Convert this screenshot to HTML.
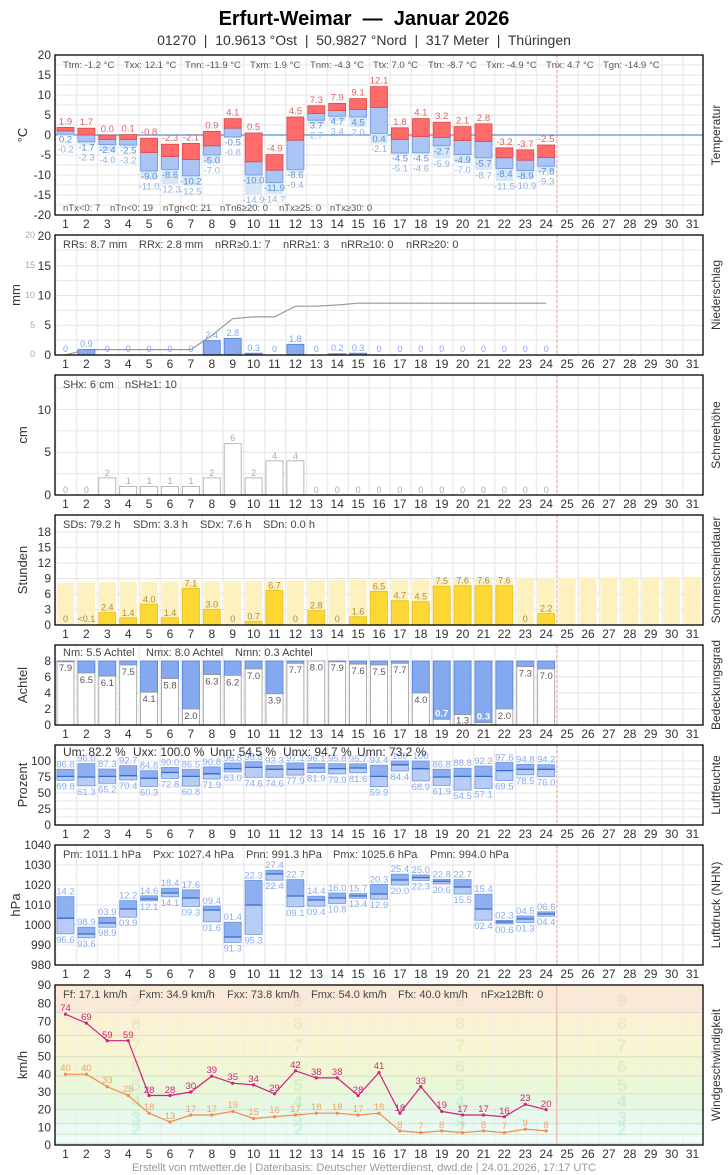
<!DOCTYPE html>
<html><head><meta charset="utf-8"><style>
body{margin:0;background:#fff}
svg{display:block;font-family:"Liberation Sans",sans-serif}
.t{font-size:12px;fill:#333}
.yt{font-size:12px;fill:#333;text-anchor:end}
.xl{font-size:12px;fill:#333;text-anchor:middle}
.st{font-size:11px;fill:#444}
.sts{font-size:9.5px;fill:#555}
.fr{fill:none;stroke:#000;stroke-width:1.3}
.hg{stroke:#e4e4e4;stroke-width:1}
.dl{stroke:#f2b8b8;stroke-width:1.2}
.r{fill:#ff6b6b;stroke:#d84a4a;stroke-width:.8}
.b{fill:#a9c4f5;stroke:#6a96e0;stroke-width:.8}
.lb{fill:#d6e7f8}
.lr{font-size:9.5px;fill:#e06060;text-anchor:middle}
.ln{font-size:9.5px;fill:#5b8fd8;text-anchor:middle}
.lg{font-size:9.5px;fill:#8fb4dc;text-anchor:middle}
.pb{fill:#8aacef;stroke:#4a7fe0;stroke-width:.8}
.pl{font-size:9px;fill:#7fa6ee;text-anchor:middle}
.sb{fill:#fff;stroke:#a8a8a8;stroke-width:.8}
.sl{font-size:9px;fill:#aaa;text-anchor:middle}
.sg{fill:#fdf1c0}
.sy{fill:#fdd835;stroke:#e8c21a;stroke-width:.8}
.syl{font-size:9px;fill:#a89040;text-anchor:middle}
.cw{fill:#fff;stroke:#999;stroke-width:.8}
.cb{fill:#85a9ee;stroke:#4a7fe0;stroke-width:.8}
.cl{font-size:9.5px;fill:#555;text-anchor:middle}
.hu{fill:#8fb0f0;stroke:#6a96e0;stroke-width:.8}
.hl{fill:#b8cdf5;stroke:#6a96e0;stroke-width:.8}
.hm{stroke:#3a6ad0;stroke-width:1.3}
.hx{font-size:9.5px;fill:#8aacef;text-anchor:middle}
.bf{font-size:17px;font-weight:bold;text-anchor:middle}
.g{fill:none;stroke:#d0237a;stroke-width:1.2}
.m{fill:none;stroke:#f58a4a;stroke-width:1.2}
.gl{font-size:9.5px;fill:#d0237a;text-anchor:middle}
.ml{font-size:9.5px;fill:#f5a070;text-anchor:middle}
.rt{font-size:12px;fill:#333;text-anchor:middle}
.pre{white-space:pre}
</style></head><body>
<svg width="728" height="1175" viewBox="0 0 728 1175" xmlns="http://www.w3.org/2000/svg">
<defs>
<pattern id="vg" patternUnits="userSpaceOnUse" x="55" y="0" width="20.903" height="20"><rect x="-1" y="0" width="2.4" height="20" fill="#ececec"/></pattern>
</defs>
<text class="pre" x="364" y="25" text-anchor="middle" style="font-size:20px;font-weight:bold;fill:#000">Erfurt-Weimar  —  Januar 2026</text>
<text class="pre" x="364" y="45" text-anchor="middle" style="font-size:14px;fill:#333">01270  |  10.9613 °Ost  |  50.9827 °Nord  |  317 Meter  |  Thüringen</text>

<!-- ============ P1 TEMPERATURE ============ -->
<rect x="55" y="55" width="648" height="160" fill="url(#vg)"/>
<g class="hg"><line x1="55" x2="703" y1="65" y2="65"/><line x1="55" x2="703" y1="75" y2="75"/><line x1="55" x2="703" y1="85" y2="85"/><line x1="55" x2="703" y1="95" y2="95"/><line x1="55" x2="703" y1="105" y2="105"/><line x1="55" x2="703" y1="115" y2="115"/><line x1="55" x2="703" y1="125" y2="125"/><line x1="55" x2="703" y1="145" y2="145"/><line x1="55" x2="703" y1="155" y2="155"/><line x1="55" x2="703" y1="165" y2="165"/><line x1="55" x2="703" y1="175" y2="175"/><line x1="55" x2="703" y1="185" y2="185"/><line x1="55" x2="703" y1="195" y2="195"/><line x1="55" x2="703" y1="205" y2="205"/></g>
<line x1="556.7" x2="556.7" y1="55" y2="215" class="dl" stroke-dasharray="3,2"/>
<line x1="55" x2="703" y1="135" y2="135" stroke="#5b8fd8" stroke-width="1.2"/>
<g>
<rect class="lb" x="57" y="134.2" width="17" height="1.6"/><rect class="b" x="57" y="131" width="17" height="3.2"/><rect class="r" x="57" y="127.4" width="17" height="3.6"/>
<rect class="lb" x="77.9" y="141.8" width="17" height="2.4"/><rect class="b" x="77.9" y="135" width="17" height="6.8"/><rect class="r" x="77.9" y="128.2" width="17" height="6.8"/>
<rect class="lb" x="98.8" y="144.6" width="17" height="6.4"/><rect class="b" x="98.8" y="139.4" width="17" height="5.2"/><rect class="r" x="98.8" y="135" width="17" height="4.4"/>
<rect class="lb" x="119.7" y="145" width="17" height="2.8"/><rect class="b" x="119.7" y="139.4" width="17" height="5.6"/><rect class="r" x="119.7" y="134.6" width="17" height="4.8"/>
<rect class="lb" x="140.6" y="171" width="17" height="8"/><rect class="b" x="140.6" y="152.6" width="17" height="18.4"/><rect class="r" x="140.6" y="138.2" width="17" height="14.4"/>
<rect class="lb" x="161.5" y="169.4" width="17" height="14.8"/><rect class="b" x="161.5" y="156.6" width="17" height="12.8"/><rect class="r" x="161.5" y="144.2" width="17" height="12.4"/>
<rect class="lb" x="182.4" y="175.8" width="17" height="9.2"/><rect class="b" x="182.4" y="159.4" width="17" height="16.4"/><rect class="r" x="182.4" y="143.4" width="17" height="16"/>
<rect class="lb" x="203.3" y="155" width="17" height="8"/><rect class="b" x="203.3" y="145.8" width="17" height="9.2"/><rect class="r" x="203.3" y="131.4" width="17" height="14.4"/>
<rect class="lb" x="224.2" y="137" width="17" height="1.2"/><rect class="b" x="224.2" y="128.2" width="17" height="8.8"/><rect class="r" x="224.2" y="118.6" width="17" height="9.6"/>
<rect class="lb" x="245.1" y="175" width="17" height="19.6"/><rect class="b" x="245.1" y="161.8" width="17" height="13.2"/><rect class="r" x="245.1" y="133" width="17" height="28.8"/>
<rect class="lb" x="266" y="182.6" width="17" height="11.2"/><rect class="b" x="266" y="170.2" width="17" height="12.4"/><rect class="r" x="266" y="154.6" width="17" height="15.6"/>
<rect class="lb" x="286.9" y="169.4" width="17" height="3.2"/><rect class="b" x="286.9" y="140.2" width="17" height="29.2"/><rect class="r" x="286.9" y="117" width="17" height="23.2"/>
<rect class="lb" x="307.8" y="120.2" width="17" height="4"/><rect class="b" x="307.8" y="113.4" width="17" height="6.8"/><rect class="r" x="307.8" y="105.8" width="17" height="7.6"/>
<rect class="lb" x="328.7" y="116.2" width="17" height="5.2"/><rect class="b" x="328.7" y="110.6" width="17" height="5.6"/><rect class="r" x="328.7" y="103.4" width="17" height="7.2"/>
<rect class="lb" x="349.6" y="117" width="17" height="10"/><rect class="b" x="349.6" y="109.4" width="17" height="7.6"/><rect class="r" x="349.6" y="98.6" width="17" height="10.8"/>
<rect class="lb" x="370.5" y="133.4" width="17" height="10"/><rect class="b" x="370.5" y="107.4" width="17" height="26"/><rect class="r" x="370.5" y="86.6" width="17" height="20.8"/>
<rect class="lb" x="391.4" y="153" width="17" height="2.4"/><rect class="b" x="391.4" y="139.4" width="17" height="13.6"/><rect class="r" x="391.4" y="127.8" width="17" height="11.6"/>
<rect class="lb" x="412.3" y="153" width="17" height="0.4"/><rect class="b" x="412.3" y="136.6" width="17" height="16.4"/><rect class="r" x="412.3" y="118.6" width="17" height="18"/>
<rect class="lb" x="433.2" y="145.8" width="17" height="12.8"/><rect class="b" x="433.2" y="137.4" width="17" height="8.4"/><rect class="r" x="433.2" y="122.2" width="17" height="15.2"/>
<rect class="lb" x="454.1" y="154.6" width="17" height="8.4"/><rect class="b" x="454.1" y="140.6" width="17" height="14"/><rect class="r" x="454.1" y="126.6" width="17" height="14"/>
<rect class="lb" x="475" y="157.8" width="17" height="12"/><rect class="b" x="475" y="141.4" width="17" height="16.4"/><rect class="r" x="475" y="123.8" width="17" height="17.6"/>
<rect class="lb" x="495.9" y="168.6" width="17" height="12.4"/><rect class="b" x="495.9" y="157.8" width="17" height="10.8"/><rect class="r" x="495.9" y="147.8" width="17" height="10"/>
<rect class="lb" x="516.8" y="170.6" width="17" height="8"/><rect class="b" x="516.8" y="160.2" width="17" height="10.4"/><rect class="r" x="516.8" y="149.8" width="17" height="10.4"/>
<rect class="lb" x="537.7" y="166.2" width="17" height="6"/><rect class="b" x="537.7" y="157.4" width="17" height="8.8"/><rect class="r" x="537.7" y="145" width="17" height="12.4"/>
</g>
<g class="lr"><text x="65.5" y="124.4">1.9</text><text x="86.4" y="125.2">1.7</text><text x="107.3" y="132">0.0</text><text x="128.2" y="131.6">0.1</text><text x="149.1" y="135.2">-0.8</text><text x="170" y="141.2">-2.3</text><text x="190.9" y="140.4">-2.1</text><text x="211.8" y="128.4">0.9</text><text x="232.7" y="115.6">4.1</text><text x="253.6" y="130">0.5</text><text x="274.5" y="151.6">-4.9</text><text x="295.4" y="114">4.5</text><text x="316.3" y="102.8">7.3</text><text x="337.2" y="100.4">7.9</text><text x="358.1" y="95.6">9.1</text><text x="379" y="83.6">12.1</text><text x="399.9" y="124.8">1.8</text><text x="420.8" y="115.6">4.1</text><text x="441.7" y="119.2">3.2</text><text x="462.6" y="123.6">2.1</text><text x="483.5" y="120.8">2.8</text><text x="504.4" y="144.8">-3.2</text><text x="525.3" y="146.8">-3.7</text><text x="546.2" y="142">-2.5</text></g>
<g class="ln"><text x="65.5" y="142.7">0.2</text><text x="86.4" y="150.3">-1.7</text><text x="107.3" y="153.1">-2.4</text><text x="128.2" y="153.5">-2.5</text><text x="149.1" y="179.5">-9.0</text><text x="170" y="177.9">-8.6</text><text x="190.9" y="184.3">-10.2</text><text x="211.8" y="163.5">-5.0</text><text x="232.7" y="145.5">-0.5</text><text x="253.6" y="183.5">-10.0</text><text x="274.5" y="191.1">-11.9</text><text x="295.4" y="177.9">-8.6</text><text x="316.3" y="128.7">3.7</text><text x="337.2" y="124.7">4.7</text><text x="358.1" y="125.5">4.5</text><text x="379" y="141.9">0.4</text><text x="399.9" y="161.5">-4.5</text><text x="420.8" y="161.5">-4.5</text><text x="441.7" y="154.3">-2.7</text><text x="462.6" y="163.1">-4.9</text><text x="483.5" y="166.3">-5.7</text><text x="504.4" y="177.1">-8.4</text><text x="525.3" y="179.1">-8.9</text><text x="546.2" y="174.7">-7.8</text></g>
<g class="lg"><text x="65.5" y="152.7">-0.2</text><text x="86.4" y="160.3">-2.3</text><text x="107.3" y="163.1">-4.0</text><text x="128.2" y="163.5">-3.2</text><text x="149.1" y="189.5">-11.0</text><text x="170" y="192.7">-12.3</text><text x="190.9" y="194.3">-12.5</text><text x="211.8" y="173.5">-7.0</text><text x="232.7" y="155.5">-0.8</text><text x="253.6" y="203.1">-14.9</text><text x="274.5" y="202.3">-14.7</text><text x="295.4" y="187.9">-9.4</text><text x="316.3" y="138.7">2.7</text><text x="337.2" y="134.7">3.4</text><text x="358.1" y="135.5">2.0</text><text x="379" y="151.9">-2.1</text><text x="399.9" y="171.5">-5.1</text><text x="420.8" y="171.5">-4.6</text><text x="441.7" y="167.1">-5.9</text><text x="462.6" y="173.1">-7.0</text><text x="483.5" y="178.3">-8.7</text><text x="504.4" y="189.5">-11.5</text><text x="525.3" y="189.1">-10.9</text><text x="546.2" y="184.7">-9.3</text></g>
<g class="sts"><text x="63" y="68">Ttm: -1.2 °C</text><text x="124" y="68">Txx: 12.1 °C</text><text x="185" y="68">Tnn: -11.9 °C</text><text x="250" y="68">Txm: 1.9 °C</text><text x="310" y="68">Tnm: -4.3 °C</text><text x="373" y="68">Ttx: 7.0 °C</text><text x="428" y="68">Ttn: -8.7 °C</text><text x="486" y="68">Txn: -4.9 °C</text><text x="546" y="68">Tnx: 4.7 °C</text><text x="603" y="68">Tgn: -14.9 °C</text>
<text x="63" y="211">nTx&lt;0: 7</text><text x="110" y="211">nTn&lt;0: 19</text><text x="163" y="211">nTgn&lt;0: 21</text><text x="220" y="211">nTn6≥20: 0</text><text x="279" y="211">nTx≥25: 0</text><text x="330" y="211">nTx≥30: 0</text></g>
<rect class="fr" x="55" y="55" width="648" height="160"/>
<g class="yt"><text x="51" y="59">20</text><text x="51" y="79">15</text><text x="51" y="99">10</text><text x="51" y="119">5</text><text x="51" y="139">0</text><text x="51" y="159">-5</text><text x="51" y="179">-10</text><text x="51" y="199">-15</text><text x="51" y="219">-20</text></g>

<!-- ============ P2 PRECIP ============ -->
<rect x="55" y="235" width="648" height="120" fill="url(#vg)"/>
<g class="hg"><line x1="55" x2="703" y1="250" y2="250"/><line x1="55" x2="703" y1="265.75" y2="265.75"/><line x1="55" x2="703" y1="280.6" y2="280.6"/><line x1="55" x2="703" y1="295.5" y2="295.5"/><line x1="55" x2="703" y1="310.4" y2="310.4"/><line x1="55" x2="703" y1="325.25" y2="325.25"/><line x1="55" x2="703" y1="340.1" y2="340.1"/></g>
<line x1="556.7" x2="556.7" y1="235" y2="355" class="dl" stroke-dasharray="3,2"/>
<polyline fill="none" stroke="#999" stroke-width="1.2" points="65.5,355 86.4,349.6 190.9,349.6 211.8,335.4 232.7,318.7 253.6,316.9 274.5,316.9 295.4,306.2 316.3,306.2 337.2,305 358.1,303.2 546.2,303.2"/>
<g class="pb"><rect x="77.9" y="349.6" width="17" height="5.4"/><rect x="203.3" y="340.7" width="17" height="14.3"/><rect x="224.2" y="338.3" width="17" height="16.7"/><rect x="245.1" y="353.2" width="17" height="1.8"/><rect x="286.9" y="344.3" width="17" height="10.7"/><rect x="328.7" y="353.8" width="17" height="1.2"/><rect x="349.6" y="353.2" width="17" height="1.8"/></g>
<g class="pl"><text x="65.5" y="352">0</text><text x="86.4" y="347">0.9</text><text x="107.3" y="352">0</text><text x="128.2" y="352">0</text><text x="149.1" y="352">0</text><text x="170" y="352">0</text><text x="190.9" y="352">0</text><text x="211.8" y="338">2.4</text><text x="232.7" y="336">2.8</text><text x="253.6" y="351">0.3</text><text x="274.5" y="352">0</text><text x="295.4" y="342">1.8</text><text x="316.3" y="352">0</text><text x="337.2" y="351">0.2</text><text x="358.1" y="351">0.3</text><text x="379" y="352">0</text><text x="399.9" y="352">0</text><text x="420.8" y="352">0</text><text x="441.7" y="352">0</text><text x="462.6" y="352">0</text><text x="483.5" y="352">0</text><text x="504.4" y="352">0</text><text x="525.3" y="352">0</text><text x="546.2" y="352">0</text></g>
<g class="st"><text x="63" y="248">RRs: 8.7 mm</text><text x="139" y="248">RRx: 2.8 mm</text><text x="215" y="248">nRR≥0.1: 7</text><text x="283" y="248">nRR≥1: 3</text><text x="341" y="248">nRR≥10: 0</text><text x="406" y="248">nRR≥20: 0</text></g>
<rect class="fr" x="55" y="235" width="648" height="120"/>
<g class="yt"><text x="51" y="240">20</text><text x="51" y="270">15</text><text x="51" y="299.5">10</text><text x="51" y="329">5</text><text x="51" y="359">0</text></g>
<g style="font-size:9px;fill:#aaa;text-anchor:end"><text x="35" y="238">20</text><text x="35" y="268">15</text><text x="35" y="298">10</text><text x="35" y="328">5</text><text x="35" y="357">0</text></g>

<!-- ============ P3 SNOW ============ -->
<rect x="55" y="375" width="648" height="120" fill="url(#vg)"/>
<g class="hg"><line x1="55" x2="703" y1="388" y2="388"/><line x1="55" x2="703" y1="409.5" y2="409.5"/><line x1="55" x2="703" y1="430.9" y2="430.9"/><line x1="55" x2="703" y1="452.3" y2="452.3"/><line x1="55" x2="703" y1="473.6" y2="473.6"/></g>
<line x1="556.7" x2="556.7" y1="375" y2="495" class="dl" stroke-dasharray="3,2"/>
<g class="sb"><rect x="98.8" y="477.9" width="17" height="17.1"/><rect x="119.7" y="486.4" width="17" height="8.6"/><rect x="140.6" y="486.4" width="17" height="8.6"/><rect x="161.5" y="486.4" width="17" height="8.6"/><rect x="182.4" y="486.4" width="17" height="8.6"/><rect x="203.3" y="477.9" width="17" height="17.1"/><rect x="224.2" y="443.7" width="17" height="51.3"/><rect x="245.1" y="477.9" width="17" height="17.1"/><rect x="266" y="460.8" width="17" height="34.2"/><rect x="286.9" y="460.8" width="17" height="34.2"/></g>
<g class="sl"><text x="65.5" y="493">0</text><text x="86.4" y="493">0</text><text x="107.3" y="476">2</text><text x="128.2" y="484">1</text><text x="149.1" y="484">1</text><text x="170" y="484">1</text><text x="190.9" y="484">1</text><text x="211.8" y="476">2</text><text x="232.7" y="441">6</text><text x="253.6" y="476">2</text><text x="274.5" y="459">4</text><text x="295.4" y="459">4</text><text x="316.3" y="493">0</text><text x="337.2" y="493">0</text><text x="358.1" y="493">0</text><text x="379" y="493">0</text><text x="399.9" y="493">0</text><text x="420.8" y="493">0</text><text x="441.7" y="493">0</text><text x="462.6" y="493">0</text><text x="483.5" y="493">0</text><text x="504.4" y="493">0</text><text x="525.3" y="493">0</text><text x="546.2" y="493">0</text></g>
<g class="st"><text x="63" y="388">SHx: 6 cm</text><text x="125" y="388">nSH≥1: 10</text></g>
<rect class="fr" x="55" y="375" width="648" height="120"/>
<g class="yt"><text x="51" y="414">10</text><text x="51" y="456">5</text><text x="51" y="499">0</text></g>

<!-- ============ P4 SUN ============ -->
<rect x="55" y="515" width="648" height="110" fill="url(#vg)"/>
<g class="hg"><line x1="55" x2="703" y1="531.9" y2="531.9"/><line x1="55" x2="703" y1="547.5" y2="547.5"/><line x1="55" x2="703" y1="563" y2="563"/><line x1="55" x2="703" y1="578.5" y2="578.5"/><line x1="55" x2="703" y1="594" y2="594"/><line x1="55" x2="703" y1="609.5" y2="609.5"/></g>
<g class="sg"><rect x="57" y="582.6" width="17" height="42.4"/><rect x="77.9" y="582.4" width="17" height="42.6"/><rect x="98.8" y="582.2" width="17" height="42.8"/><rect x="119.7" y="582" width="17" height="43"/><rect x="140.6" y="581.8" width="17" height="43.2"/><rect x="161.5" y="581.6" width="17" height="43.4"/><rect x="182.4" y="581.5" width="17" height="43.5"/><rect x="203.3" y="581.3" width="17" height="43.7"/><rect x="224.2" y="581.1" width="17" height="43.9"/><rect x="245.1" y="580.9" width="17" height="44.1"/><rect x="266" y="580.7" width="17" height="44.3"/><rect x="286.9" y="580.5" width="17" height="44.5"/><rect x="307.8" y="580.3" width="17" height="44.7"/><rect x="328.7" y="580.1" width="17" height="44.9"/><rect x="349.6" y="579.9" width="17" height="45.1"/><rect x="370.5" y="579.7" width="17" height="45.3"/><rect x="391.4" y="579.6" width="17" height="45.4"/><rect x="412.3" y="579.4" width="17" height="45.6"/><rect x="433.2" y="579.2" width="17" height="45.8"/><rect x="454.1" y="579" width="17" height="46"/><rect x="475" y="578.8" width="17" height="46.2"/><rect x="495.9" y="578.6" width="17" height="46.4"/><rect x="516.8" y="578.4" width="17" height="46.6"/><rect x="537.7" y="578.2" width="17" height="46.8"/><rect x="558.6" y="578" width="17" height="47"/><rect x="579.5" y="577.8" width="17" height="47.2"/><rect x="600.4" y="577.7" width="17" height="47.3"/><rect x="621.3" y="577.5" width="17" height="47.5"/><rect x="642.2" y="577.3" width="17" height="47.7"/><rect x="663.1" y="577.1" width="17" height="47.9"/><rect x="684" y="576.9" width="17" height="48.1"/></g>
<line x1="556.7" x2="556.7" y1="515" y2="625" class="dl" stroke-dasharray="3,2"/>
<g class="sy"><rect x="98.8" y="612.6" width="17" height="12.4"/><rect x="119.7" y="617.8" width="17" height="7.2"/><rect x="140.6" y="604.3" width="17" height="20.7"/><rect x="161.5" y="617.8" width="17" height="7.2"/><rect x="182.4" y="588.3" width="17" height="36.7"/><rect x="203.3" y="609.5" width="17" height="15.5"/><rect x="245.1" y="621.4" width="17" height="3.6"/><rect x="266" y="590.4" width="17" height="34.6"/><rect x="307.8" y="610.5" width="17" height="14.5"/><rect x="349.6" y="616.7" width="17" height="8.3"/><rect x="370.5" y="591.4" width="17" height="33.6"/><rect x="391.4" y="600.7" width="17" height="24.3"/><rect x="412.3" y="601.7" width="17" height="23.3"/><rect x="433.2" y="586.2" width="17" height="38.8"/><rect x="454.1" y="585.7" width="17" height="39.3"/><rect x="475" y="585.7" width="17" height="39.3"/><rect x="495.9" y="585.7" width="17" height="39.3"/><rect x="537.7" y="613.6" width="17" height="11.4"/></g>
<g class="syl"><text x="65.5" y="622">0</text><text x="86.4" y="622">&lt;0.1</text><text x="107.3" y="610.6">2.4</text><text x="128.2" y="615.8">1.4</text><text x="149.1" y="602.3">4.0</text><text x="170" y="615.8">1.4</text><text x="190.9" y="586.3">7.1</text><text x="211.8" y="607.5">3.0</text><text x="232.7" y="622">0</text><text x="253.6" y="619.4">0.7</text><text x="274.5" y="588.4">6.7</text><text x="295.4" y="622">0</text><text x="316.3" y="608.5">2.8</text><text x="337.2" y="622">0</text><text x="358.1" y="614.7">1.6</text><text x="379" y="589.4">6.5</text><text x="399.9" y="598.7">4.7</text><text x="420.8" y="599.7">4.5</text><text x="441.7" y="584.2">7.5</text><text x="462.6" y="583.7">7.6</text><text x="483.5" y="583.7">7.6</text><text x="504.4" y="583.7">7.6</text><text x="525.3" y="622">0</text><text x="546.2" y="611.6">2.2</text></g>
<g class="st"><text x="63" y="528">SDs: 79.2 h</text><text x="133" y="528">SDm: 3.3 h</text><text x="200" y="528">SDx: 7.6 h</text><text x="263" y="528">SDn: 0.0 h</text></g>
<rect class="fr" x="55" y="515" width="648" height="110"/>
<g class="yt"><text x="51" y="536">18</text><text x="51" y="551.5">15</text><text x="51" y="567">12</text><text x="51" y="582.5">9</text><text x="51" y="598">6</text><text x="51" y="613.5">3</text><text x="51" y="629">0</text></g>

<!-- ============ P5 CLOUD ============ -->
<rect x="55" y="645" width="648" height="80" fill="url(#vg)"/>
<g class="hg"><line x1="55" x2="703" y1="661" y2="661"/><line x1="55" x2="703" y1="677" y2="677"/><line x1="55" x2="703" y1="693" y2="693"/><line x1="55" x2="703" y1="709" y2="709"/></g>
<line x1="556.7" x2="556.7" y1="645" y2="725" class="dl" stroke-dasharray="3,2"/>
<g class="cb"><rect x="57" y="661" width="17" height="0.8"/><rect x="77.9" y="661" width="17" height="12"/><rect x="98.8" y="661" width="17" height="15.2"/><rect x="119.7" y="661" width="17" height="4"/><rect x="140.6" y="661" width="17" height="31.2"/><rect x="161.5" y="661" width="17" height="17.6"/><rect x="182.4" y="661" width="17" height="48"/><rect x="203.3" y="661" width="17" height="13.6"/><rect x="224.2" y="661" width="17" height="14.4"/><rect x="245.1" y="661" width="17" height="8"/><rect x="266" y="661" width="17" height="32.8"/><rect x="286.9" y="661" width="17" height="2.4"/><rect x="328.7" y="661" width="17" height="0.8"/><rect x="349.6" y="661" width="17" height="3.2"/><rect x="370.5" y="661" width="17" height="4"/><rect x="391.4" y="661" width="17" height="2.4"/><rect x="412.3" y="661" width="17" height="32"/><rect x="433.2" y="661" width="17" height="58.4"/><rect x="454.1" y="661" width="17" height="53.6"/><rect x="475" y="661" width="17" height="61.6"/><rect x="495.9" y="661" width="17" height="48"/><rect x="516.8" y="661" width="17" height="5.6"/><rect x="537.7" y="661" width="17" height="8"/></g>
<g class="cw"><rect x="57" y="661.8" width="17" height="63.2"/><rect x="77.9" y="673" width="17" height="52"/><rect x="98.8" y="676.2" width="17" height="48.8"/><rect x="119.7" y="665" width="17" height="60"/><rect x="140.6" y="692.2" width="17" height="32.8"/><rect x="161.5" y="678.6" width="17" height="46.4"/><rect x="182.4" y="709" width="17" height="16"/><rect x="203.3" y="674.6" width="17" height="50.4"/><rect x="224.2" y="675.4" width="17" height="49.6"/><rect x="245.1" y="669" width="17" height="56"/><rect x="266" y="693.8" width="17" height="31.2"/><rect x="286.9" y="663.4" width="17" height="61.6"/><rect x="307.8" y="661" width="17" height="64"/><rect x="328.7" y="661.8" width="17" height="63.2"/><rect x="349.6" y="664.2" width="17" height="60.8"/><rect x="370.5" y="665" width="17" height="60"/><rect x="391.4" y="663.4" width="17" height="61.6"/><rect x="412.3" y="693" width="17" height="32"/><rect x="433.2" y="719.4" width="17" height="5.6"/><rect x="454.1" y="714.6" width="17" height="10.4"/><rect x="475" y="722.6" width="17" height="2.4"/><rect x="495.9" y="709" width="17" height="16"/><rect x="516.8" y="666.6" width="17" height="58.4"/><rect x="537.7" y="669" width="17" height="56"/></g>
<g class="cl"><text x="65.5" y="671">7.9</text><text x="86.4" y="683">6.5</text><text x="107.3" y="686">6.1</text><text x="128.2" y="675">7.5</text><text x="149.1" y="702">4.1</text><text x="170" y="688.5">5.8</text><text x="190.9" y="719">2.0</text><text x="211.8" y="684.5">6.3</text><text x="232.7" y="685.4">6.2</text><text x="253.6" y="679">7.0</text><text x="274.5" y="703.6">3.9</text><text x="295.4" y="673">7.7</text><text x="316.3" y="670.5">8.0</text><text x="337.2" y="671">7.9</text><text x="358.1" y="674">7.6</text><text x="379" y="675">7.5</text><text x="399.9" y="673">7.7</text><text x="420.8" y="703">4.0</text><text x="462.6" y="723.5">1.3</text><text x="504.4" y="719">2.0</text><text x="525.3" y="676.5">7.3</text><text x="546.2" y="679">7.0</text></g>
<g style="font-size:9.5px;fill:#fff;font-weight:bold;text-anchor:middle"><text x="441.7" y="716.4">0.7</text><text x="483.5" y="719.6">0.3</text></g>
<g class="st"><text x="63" y="656">Nm: 5.5 Achtel</text><text x="146" y="656">Nmx: 8.0 Achtel</text><text x="235" y="656">Nmn: 0.3 Achtel</text></g>
<rect class="fr" x="55" y="645" width="648" height="80"/>
<g class="yt"><text x="51" y="665">8</text><text x="51" y="681">6</text><text x="51" y="697">4</text><text x="51" y="713">2</text><text x="51" y="729">0</text></g>

<!-- ============ P6 HUMIDITY ============ -->
<rect x="55" y="745" width="648" height="80" fill="url(#vg)"/>
<g class="hg"><line x1="55" x2="703" y1="761" y2="761"/><line x1="55" x2="703" y1="769" y2="769"/><line x1="55" x2="703" y1="777" y2="777"/><line x1="55" x2="703" y1="785" y2="785"/><line x1="55" x2="703" y1="793" y2="793"/><line x1="55" x2="703" y1="801" y2="801"/><line x1="55" x2="703" y1="809" y2="809"/><line x1="55" x2="703" y1="817" y2="817"/></g>
<line x1="556.7" x2="556.7" y1="745" y2="825" class="dl" stroke-dasharray="3,2"/>
<g class="hl"><rect x="57" y="776.4" width="17" height="3.9"/><rect x="77.9" y="777" width="17" height="8.8"/><rect x="98.8" y="776.4" width="17" height="6.9"/><rect x="119.7" y="775.7" width="17" height="4.2"/><rect x="140.6" y="778.3" width="17" height="8.1"/><rect x="161.5" y="772.5" width="17" height="5.9"/><rect x="182.4" y="776.4" width="17" height="9.7"/><rect x="203.3" y="773.8" width="17" height="5.2"/><rect x="224.2" y="768.7" width="17" height="3.2"/><rect x="245.1" y="767.4" width="17" height="9.9"/><rect x="266" y="769.3" width="17" height="8"/><rect x="286.9" y="769.3" width="17" height="5.8"/><rect x="307.8" y="768" width="17" height="4.6"/><rect x="328.7" y="768.7" width="17" height="5.2"/><rect x="349.6" y="768" width="17" height="4.8"/><rect x="370.5" y="776.4" width="17" height="10.3"/><rect x="391.4" y="764.8" width="17" height="6.2"/><rect x="412.3" y="768.7" width="17" height="12.2"/><rect x="433.2" y="777" width="17" height="8.4"/><rect x="454.1" y="776.4" width="17" height="13.7"/><rect x="475" y="776.4" width="17" height="12.1"/><rect x="495.9" y="770.6" width="17" height="9.9"/><rect x="516.8" y="769.3" width="17" height="5.5"/><rect x="537.7" y="769.3" width="17" height="7.1"/></g>
<g class="hu"><rect x="57" y="769.4" width="17" height="7"/><rect x="77.9" y="763.6" width="17" height="13.4"/><rect x="98.8" y="769.1" width="17" height="7.3"/><rect x="119.7" y="765.7" width="17" height="10"/><rect x="140.6" y="770.7" width="17" height="7.6"/><rect x="161.5" y="767.4" width="17" height="5.1"/><rect x="182.4" y="769.6" width="17" height="6.8"/><rect x="203.3" y="766.9" width="17" height="6.9"/><rect x="224.2" y="763" width="17" height="5.7"/><rect x="245.1" y="761.8" width="17" height="5.6"/><rect x="266" y="765.3" width="17" height="4"/><rect x="286.9" y="762.9" width="17" height="6.4"/><rect x="307.8" y="763.5" width="17" height="4.5"/><rect x="328.7" y="763.7" width="17" height="5"/><rect x="349.6" y="763.8" width="17" height="4.2"/><rect x="370.5" y="765.2" width="17" height="11.2"/><rect x="391.4" y="761" width="17" height="3.8"/><rect x="412.3" y="761" width="17" height="7.7"/><rect x="433.2" y="769.4" width="17" height="7.6"/><rect x="454.1" y="768.2" width="17" height="8.2"/><rect x="475" y="766" width="17" height="10.4"/><rect x="495.9" y="762.5" width="17" height="8.1"/><rect x="516.8" y="764.3" width="17" height="5"/><rect x="537.7" y="764.7" width="17" height="4.6"/></g>
<g class="hm"><line x1="57" x2="74" y1="776.4" y2="776.4"/><line x1="77.9" x2="94.9" y1="777" y2="777"/><line x1="98.8" x2="115.8" y1="776.4" y2="776.4"/><line x1="119.7" x2="136.7" y1="775.7" y2="775.7"/><line x1="140.6" x2="157.6" y1="778.3" y2="778.3"/><line x1="161.5" x2="178.5" y1="772.5" y2="772.5"/><line x1="182.4" x2="199.4" y1="776.4" y2="776.4"/><line x1="203.3" x2="220.3" y1="773.8" y2="773.8"/><line x1="224.2" x2="241.2" y1="768.7" y2="768.7"/><line x1="245.1" x2="262.1" y1="767.4" y2="767.4"/><line x1="266" x2="283" y1="769.3" y2="769.3"/><line x1="286.9" x2="303.9" y1="769.3" y2="769.3"/><line x1="307.8" x2="324.8" y1="768" y2="768"/><line x1="328.7" x2="345.7" y1="768.7" y2="768.7"/><line x1="349.6" x2="366.6" y1="768" y2="768"/><line x1="370.5" x2="387.5" y1="776.4" y2="776.4"/><line x1="391.4" x2="408.4" y1="764.8" y2="764.8"/><line x1="412.3" x2="429.3" y1="768.7" y2="768.7"/><line x1="433.2" x2="450.2" y1="777" y2="777"/><line x1="454.1" x2="471.1" y1="776.4" y2="776.4"/><line x1="475" x2="492" y1="776.4" y2="776.4"/><line x1="495.9" x2="512.9" y1="770.6" y2="770.6"/><line x1="516.8" x2="533.8" y1="769.3" y2="769.3"/><line x1="537.7" x2="554.7" y1="769.3" y2="769.3"/></g>
<g class="hx"><text x="65.5" y="767.4">86.8</text><text x="86.4" y="761.6">96.0</text><text x="107.3" y="767.1">87.3</text><text x="128.2" y="763.7">92.7</text><text x="149.1" y="768.7">84.8</text><text x="170" y="765.4">90.0</text><text x="190.9" y="767.6">86.5</text><text x="211.8" y="764.9">90.8</text><text x="232.7" y="761">96.8</text><text x="253.6" y="759.8">98.8</text><text x="274.5" y="763.3">93.3</text><text x="295.4" y="760.9">97.1</text><text x="316.3" y="761.5">96.1</text><text x="337.2" y="761.7">95.8</text><text x="358.1" y="761.8">95.7</text><text x="379" y="763.2">93.4</text><text x="399.9" y="759">100</text><text x="420.8" y="759">100</text><text x="441.7" y="767.4">86.8</text><text x="462.6" y="766.2">88.8</text><text x="483.5" y="764">92.2</text><text x="504.4" y="760.5">97.6</text><text x="525.3" y="762.3">94.8</text><text x="546.2" y="762.7">94.2</text>
<text x="65.5" y="789.3">69.8</text><text x="86.4" y="794.8">61.3</text><text x="107.3" y="792.3">65.2</text><text x="128.2" y="788.9">70.4</text><text x="149.1" y="795.4">60.3</text><text x="170" y="787.4">72.8</text><text x="190.9" y="795.1">60.8</text><text x="211.8" y="788">71.9</text><text x="232.7" y="780.9">83.0</text><text x="253.6" y="786.3">74.6</text><text x="274.5" y="786.3">74.6</text><text x="295.4" y="784.1">77.9</text><text x="316.3" y="781.6">81.9</text><text x="337.2" y="782.9">79.9</text><text x="358.1" y="781.8">81.6</text><text x="379" y="795.7">59.9</text><text x="399.9" y="780">84.4</text><text x="420.8" y="789.9">68.9</text><text x="441.7" y="794.4">61.9</text><text x="462.6" y="799.1">54.5</text><text x="483.5" y="797.5">57.1</text><text x="504.4" y="789.5">69.5</text><text x="525.3" y="783.8">78.5</text><text x="546.2" y="785.4">76.0</text></g>
<g style="font-size:12px;fill:#333"><text x="63" y="756">Um: 82.2 %</text><text x="133" y="756">Uxx: 100.0 %</text><text x="210" y="756">Unn: 54.5 %</text><text x="283" y="756">Umx: 94.7 %</text><text x="357" y="756">Umn: 73.2 %</text></g>
<rect class="fr" x="55" y="745" width="648" height="80"/>
<g class="yt"><text x="51" y="765">100</text><text x="51" y="781">75</text><text x="51" y="797">50</text><text x="51" y="813">25</text><text x="51" y="829">0</text></g>

<!-- ============ P7 PRESSURE ============ -->
<rect x="55" y="845" width="648" height="120" fill="url(#vg)"/>
<g class="hg"><line x1="55" x2="703" y1="865" y2="865"/><line x1="55" x2="703" y1="885" y2="885"/><line x1="55" x2="703" y1="905" y2="905"/><line x1="55" x2="703" y1="925" y2="925"/><line x1="55" x2="703" y1="945" y2="945"/></g>
<line x1="556.7" x2="556.7" y1="845" y2="965" class="dl" stroke-dasharray="3,2"/>
<g class="hl"><rect x="57" y="918.2" width="17" height="15.6"/><rect x="77.9" y="934" width="17" height="3.8"/><rect x="98.8" y="923" width="17" height="4.2"/><rect x="119.7" y="909" width="17" height="8.2"/><rect x="140.6" y="899" width="17" height="1.8"/><rect x="161.5" y="893" width="17" height="3.8"/><rect x="182.4" y="898" width="17" height="8.4"/><rect x="203.3" y="910" width="17" height="11.8"/><rect x="224.2" y="937" width="17" height="5.4"/><rect x="245.1" y="905" width="17" height="29.4"/><rect x="266" y="874" width="17" height="6.2"/><rect x="286.9" y="896" width="17" height="10.8"/><rect x="307.8" y="900" width="17" height="6.2"/><rect x="328.7" y="898" width="17" height="5.4"/><rect x="349.6" y="896" width="17" height="2.2"/><rect x="370.5" y="894" width="17" height="5.2"/><rect x="391.4" y="880" width="17" height="5"/><rect x="412.3" y="877.6" width="17" height="2.8"/><rect x="433.2" y="881.4" width="17" height="2.4"/><rect x="454.1" y="887" width="17" height="7"/><rect x="475" y="909" width="17" height="11.2"/><rect x="495.9" y="922" width="17" height="1.8"/><rect x="516.8" y="919" width="17" height="3.4"/><rect x="537.7" y="914" width="17" height="2.2"/></g>
<g class="hu"><rect x="57" y="896.6" width="17" height="21.6"/><rect x="77.9" y="927.2" width="17" height="6.8"/><rect x="98.8" y="917.2" width="17" height="5.8"/><rect x="119.7" y="900.6" width="17" height="8.4"/><rect x="140.6" y="895.8" width="17" height="3.2"/><rect x="161.5" y="888.2" width="17" height="4.8"/><rect x="182.4" y="889.8" width="17" height="8.2"/><rect x="203.3" y="906.2" width="17" height="3.8"/><rect x="224.2" y="922.2" width="17" height="14.8"/><rect x="245.1" y="880.4" width="17" height="24.6"/><rect x="266" y="870.2" width="17" height="3.8"/><rect x="286.9" y="879.6" width="17" height="16.4"/><rect x="307.8" y="896.2" width="17" height="3.8"/><rect x="328.7" y="893" width="17" height="5"/><rect x="349.6" y="893.6" width="17" height="2.4"/><rect x="370.5" y="884.4" width="17" height="9.6"/><rect x="391.4" y="874.2" width="17" height="5.8"/><rect x="412.3" y="875" width="17" height="2.6"/><rect x="433.2" y="879.4" width="17" height="2"/><rect x="454.1" y="879.6" width="17" height="7.4"/><rect x="475" y="894.2" width="17" height="14.8"/><rect x="495.9" y="920.4" width="17" height="1.6"/><rect x="516.8" y="916" width="17" height="3"/><rect x="537.7" y="911.8" width="17" height="2.2"/></g>
<g class="hm"><line x1="57" x2="74" y1="918.2" y2="918.2"/><line x1="77.9" x2="94.9" y1="934" y2="934"/><line x1="98.8" x2="115.8" y1="923" y2="923"/><line x1="119.7" x2="136.7" y1="909" y2="909"/><line x1="140.6" x2="157.6" y1="899" y2="899"/><line x1="161.5" x2="178.5" y1="893" y2="893"/><line x1="182.4" x2="199.4" y1="898" y2="898"/><line x1="203.3" x2="220.3" y1="910" y2="910"/><line x1="224.2" x2="241.2" y1="937" y2="937"/><line x1="245.1" x2="262.1" y1="905" y2="905"/><line x1="266" x2="283" y1="874" y2="874"/><line x1="286.9" x2="303.9" y1="896" y2="896"/><line x1="307.8" x2="324.8" y1="900" y2="900"/><line x1="328.7" x2="345.7" y1="898" y2="898"/><line x1="349.6" x2="366.6" y1="896" y2="896"/><line x1="370.5" x2="387.5" y1="894" y2="894"/><line x1="391.4" x2="408.4" y1="880" y2="880"/><line x1="412.3" x2="429.3" y1="877.6" y2="877.6"/><line x1="433.2" x2="450.2" y1="881.4" y2="881.4"/><line x1="454.1" x2="471.1" y1="887" y2="887"/><line x1="475" x2="492" y1="909" y2="909"/><line x1="495.9" x2="512.9" y1="922" y2="922"/><line x1="516.8" x2="533.8" y1="919" y2="919"/><line x1="537.7" x2="554.7" y1="914" y2="914"/></g>
<g class="hx"><text x="65.5" y="894.6">14.2</text><text x="86.4" y="925.2">98.9</text><text x="107.3" y="915.2">03.9</text><text x="128.2" y="898.6">12.2</text><text x="149.1" y="893.8">14.6</text><text x="170" y="886.2">18.4</text><text x="190.9" y="887.8">17.6</text><text x="211.8" y="904.2">09.4</text><text x="232.7" y="920.2">01.4</text><text x="253.6" y="878.4">22.3</text><text x="274.5" y="868.2">27.4</text><text x="295.4" y="877.6">22.7</text><text x="316.3" y="894.2">14.4</text><text x="337.2" y="891">16.0</text><text x="358.1" y="891.6">15.7</text><text x="379" y="882.4">20.3</text><text x="399.9" y="872.2">25.4</text><text x="420.8" y="873">25.0</text><text x="441.7" y="877.4">22.8</text><text x="462.6" y="877.6">22.7</text><text x="483.5" y="892.2">15.4</text><text x="504.4" y="918.4">02.3</text><text x="525.3" y="914">04.5</text><text x="546.2" y="909.8">06.6</text>
<text x="65.5" y="942.8">95.6</text><text x="86.4" y="946.8">93.6</text><text x="107.3" y="936.2">98.9</text><text x="128.2" y="926.2">03.9</text><text x="149.1" y="909.8">12.1</text><text x="170" y="905.8">14.1</text><text x="190.9" y="915.4">09.3</text><text x="211.8" y="930.8">01.6</text><text x="232.7" y="951.4">91.3</text><text x="253.6" y="943.4">95.3</text><text x="274.5" y="889.2">22.4</text><text x="295.4" y="915.8">09.1</text><text x="316.3" y="915.2">09.4</text><text x="337.2" y="912.4">10.8</text><text x="358.1" y="907.2">13.4</text><text x="379" y="908.2">12.9</text><text x="399.9" y="894">20.0</text><text x="420.8" y="889.4">22.3</text><text x="441.7" y="892.8">20.6</text><text x="462.6" y="903">15.5</text><text x="483.5" y="929.2">02.4</text><text x="504.4" y="932.8">00.6</text><text x="525.3" y="931.4">01.3</text><text x="546.2" y="925.2">04.4</text></g>
<g class="st"><text x="63" y="858">Pm: 1011.1 hPa</text><text x="153" y="858">Pxx: 1027.4 hPa</text><text x="246" y="858">Pnn: 991.3 hPa</text><text x="333" y="858">Pmx: 1025.6 hPa</text><text x="430" y="858">Pmn: 994.0 hPa</text></g>
<rect class="fr" x="55" y="845" width="648" height="120"/>
<g class="yt"><text x="51" y="849">1040</text><text x="51" y="869">1030</text><text x="51" y="889">1020</text><text x="51" y="909">1010</text><text x="51" y="929">1000</text><text x="51" y="949">990</text><text x="51" y="969">980</text></g>

<!-- ============ P8 WIND ============ -->
<rect x="55" y="985" width="648" height="27.5" fill="#fbe9d8"/>
<rect x="55" y="1012.5" width="648" height="22.9" fill="#fbf2d6"/>
<rect x="55" y="1035.4" width="648" height="21.3" fill="#f8f5d2"/>
<rect x="55" y="1056.7" width="648" height="19.4" fill="#f1f7d2"/>
<rect x="55" y="1076.1" width="648" height="17.7" fill="#eaf8d8"/>
<rect x="55" y="1093.8" width="648" height="15.9" fill="#e6f8e0"/>
<rect x="55" y="1109.7" width="648" height="14.1" fill="#e6f9ec"/>
<rect x="55" y="1123.8" width="648" height="10.6" fill="#e8fbf4"/>
<rect x="55" y="1134.4" width="648" height="10.6" fill="#eefcfc"/>
<rect x="55" y="985" width="648" height="160" fill="url(#vg)" opacity="0.6"/>
<g stroke="#ddddc8" stroke-width="1"><line x1="55" x2="703" y1="1012.5" y2="1012.5"/><line x1="55" x2="703" y1="1035.4" y2="1035.4"/><line x1="55" x2="703" y1="1056.7" y2="1056.7"/><line x1="55" x2="703" y1="1076.1" y2="1076.1"/><line x1="55" x2="703" y1="1093.8" y2="1093.8"/><line x1="55" x2="703" y1="1109.7" y2="1109.7"/><line x1="55" x2="703" y1="1123.8" y2="1123.8"/><line x1="55" x2="703" y1="1134.4" y2="1134.4"/><line x1="55" x2="703" y1="1143.2" y2="1143.2"/></g>
<line x1="556.7" x2="556.7" y1="985" y2="1145" stroke="#f0c0b0" stroke-width="1.5"/>
<g class="bf" opacity="0.5">
<text x="136" y="1006" fill="#e8d8c0">9</text><text x="136" y="1029" fill="#e0e0b8">8</text><text x="136" y="1051" fill="#dde3b0">7</text><text x="136" y="1072" fill="#d5e5b5">6</text><text x="136" y="1091" fill="#c8e5b8">5</text><text x="136" y="1107" fill="#b8e8c0">4</text><text x="136" y="1123" fill="#b5e8d0">3</text><text x="136" y="1135" fill="#b5e8e0">2</text>
<text x="298" y="1006" fill="#e8d8c0">9</text><text x="298" y="1029" fill="#e0e0b8">8</text><text x="298" y="1051" fill="#dde3b0">7</text><text x="298" y="1072" fill="#d5e5b5">6</text><text x="298" y="1091" fill="#c8e5b8">5</text><text x="298" y="1107" fill="#b8e8c0">4</text><text x="298" y="1123" fill="#b5e8d0">3</text><text x="298" y="1135" fill="#b5e8e0">2</text>
<text x="460" y="1006" fill="#e8d8c0">9</text><text x="460" y="1029" fill="#e0e0b8">8</text><text x="460" y="1051" fill="#dde3b0">7</text><text x="460" y="1072" fill="#d5e5b5">6</text><text x="460" y="1091" fill="#c8e5b8">5</text><text x="460" y="1107" fill="#b8e8c0">4</text><text x="460" y="1123" fill="#b5e8d0">3</text><text x="460" y="1135" fill="#b5e8e0">2</text>
<text x="622" y="1006" fill="#e8d8c0">9</text><text x="622" y="1029" fill="#e0e0b8">8</text><text x="622" y="1051" fill="#dde3b0">7</text><text x="622" y="1072" fill="#d5e5b5">6</text><text x="622" y="1091" fill="#c8e5b8">5</text><text x="622" y="1107" fill="#b8e8c0">4</text><text x="622" y="1123" fill="#b5e8d0">3</text><text x="622" y="1135" fill="#b5e8e0">2</text>
</g>
<polyline class="g" points="65.5,1014.2 86.4,1023.1 107.3,1040.7 128.2,1040.7 149.1,1095.5 170,1095.5 190.9,1092 211.8,1076.1 232.7,1083.2 253.6,1084.9 274.5,1093.8 295.4,1070.8 316.3,1077.9 337.2,1077.9 358.1,1095.5 379,1072.6 399.9,1113.2 420.8,1086.7 441.7,1111.4 462.6,1115 483.5,1115 504.4,1116.7 525.3,1104.4 546.2,1109.7"/>
<polyline class="m" points="65.5,1074.3 86.4,1074.3 107.3,1086.7 128.2,1095.5 149.1,1113.2 170,1122 190.9,1115 211.8,1115 232.7,1111.4 253.6,1118.5 274.5,1116.7 295.4,1115 316.3,1113.2 337.2,1113.2 358.1,1115 379,1113.2 399.9,1130.9 420.8,1132.6 441.7,1130.9 462.6,1132.6 483.5,1130.9 504.4,1132.6 525.3,1129.1 546.2,1130.9"/>
<g fill="#d0237a"><circle cx="65.5" cy="1014.2" r="1.6"/><circle cx="86.4" cy="1023.1" r="1.6"/><circle cx="107.3" cy="1040.7" r="1.6"/><circle cx="128.2" cy="1040.7" r="1.6"/><circle cx="149.1" cy="1095.5" r="1.6"/><circle cx="170" cy="1095.5" r="1.6"/><circle cx="190.9" cy="1092" r="1.6"/><circle cx="211.8" cy="1076.1" r="1.6"/><circle cx="232.7" cy="1083.2" r="1.6"/><circle cx="253.6" cy="1084.9" r="1.6"/><circle cx="274.5" cy="1093.8" r="1.6"/><circle cx="295.4" cy="1070.8" r="1.6"/><circle cx="316.3" cy="1077.9" r="1.6"/><circle cx="337.2" cy="1077.9" r="1.6"/><circle cx="358.1" cy="1095.5" r="1.6"/><circle cx="379" cy="1072.6" r="1.6"/><circle cx="399.9" cy="1113.2" r="1.6"/><circle cx="420.8" cy="1086.7" r="1.6"/><circle cx="441.7" cy="1111.4" r="1.6"/><circle cx="462.6" cy="1115" r="1.6"/><circle cx="483.5" cy="1115" r="1.6"/><circle cx="504.4" cy="1116.7" r="1.6"/><circle cx="525.3" cy="1104.4" r="1.6"/><circle cx="546.2" cy="1109.7" r="1.6"/></g>
<g fill="#f58a4a"><circle cx="65.5" cy="1074.3" r="1.6"/><circle cx="86.4" cy="1074.3" r="1.6"/><circle cx="107.3" cy="1086.7" r="1.6"/><circle cx="128.2" cy="1095.5" r="1.6"/><circle cx="149.1" cy="1113.2" r="1.6"/><circle cx="170" cy="1122" r="1.6"/><circle cx="190.9" cy="1115" r="1.6"/><circle cx="211.8" cy="1115" r="1.6"/><circle cx="232.7" cy="1111.4" r="1.6"/><circle cx="253.6" cy="1118.5" r="1.6"/><circle cx="274.5" cy="1116.7" r="1.6"/><circle cx="295.4" cy="1115" r="1.6"/><circle cx="316.3" cy="1113.2" r="1.6"/><circle cx="337.2" cy="1113.2" r="1.6"/><circle cx="358.1" cy="1115" r="1.6"/><circle cx="379" cy="1113.2" r="1.6"/><circle cx="399.9" cy="1130.9" r="1.6"/><circle cx="420.8" cy="1132.6" r="1.6"/><circle cx="441.7" cy="1130.9" r="1.6"/><circle cx="462.6" cy="1132.6" r="1.6"/><circle cx="483.5" cy="1130.9" r="1.6"/><circle cx="504.4" cy="1132.6" r="1.6"/><circle cx="525.3" cy="1129.1" r="1.6"/><circle cx="546.2" cy="1130.9" r="1.6"/></g>
<g class="gl"><text x="65.5" y="1011">74</text><text x="86.4" y="1020">69</text><text x="107.3" y="1038">59</text><text x="128.2" y="1038">59</text><text x="149.1" y="1093">28</text><text x="170" y="1093">28</text><text x="190.9" y="1089">30</text><text x="211.8" y="1073">39</text><text x="232.7" y="1080">35</text><text x="253.6" y="1082">34</text><text x="274.5" y="1091">29</text><text x="295.4" y="1068">42</text><text x="316.3" y="1075">38</text><text x="337.2" y="1075">38</text><text x="358.1" y="1093">28</text><text x="379" y="1069">41</text><text x="399.9" y="1111">18</text><text x="420.8" y="1084">33</text><text x="441.7" y="1108">19</text><text x="462.6" y="1112">17</text><text x="483.5" y="1112">17</text><text x="504.4" y="1114">16</text><text x="525.3" y="1101">23</text><text x="546.2" y="1107">20</text></g>
<g class="ml"><text x="65.5" y="1071">40</text><text x="86.4" y="1071">40</text><text x="107.3" y="1083">33</text><text x="128.2" y="1092">28</text><text x="149.1" y="1110">18</text><text x="170" y="1119">13</text><text x="190.9" y="1112">17</text><text x="211.8" y="1112">17</text><text x="232.7" y="1108">19</text><text x="253.6" y="1115">15</text><text x="274.5" y="1113">16</text><text x="295.4" y="1112">17</text><text x="316.3" y="1110">18</text><text x="337.2" y="1110">18</text><text x="358.1" y="1112">17</text><text x="379" y="1110">18</text><text x="399.9" y="1128">8</text><text x="420.8" y="1129">7</text><text x="441.7" y="1128">8</text><text x="462.6" y="1129">7</text><text x="483.5" y="1128">8</text><text x="504.4" y="1129">7</text><text x="525.3" y="1126">9</text><text x="546.2" y="1128">8</text></g>
<g class="st"><text x="63" y="998">Ff: 17.1 km/h</text><text x="139" y="998">Fxm: 34.9 km/h</text><text x="227" y="998">Fxx: 73.8 km/h</text><text x="311" y="998">Fmx: 54.0 km/h</text><text x="398" y="998">Ffx: 40.0 km/h</text><text x="481" y="998">nFx≥12Bft: 0</text></g>
<rect class="fr" x="55" y="985" width="648" height="160"/>
<g class="yt"><text x="51" y="989">90</text><text x="51" y="1007.6">80</text><text x="51" y="1025.3">70</text><text x="51" y="1043">60</text><text x="51" y="1060.7">50</text><text x="51" y="1078.3">40</text><text x="51" y="1096">30</text><text x="51" y="1113.7">20</text><text x="51" y="1131.3">10</text><text x="51" y="1149">0</text></g>

<!-- X labels -->
<text class="xl" y="228"><tspan x="65.5">1</tspan><tspan x="86.4">2</tspan><tspan x="107.3">3</tspan><tspan x="128.2">4</tspan><tspan x="149.1">5</tspan><tspan x="170">6</tspan><tspan x="190.9">7</tspan><tspan x="211.8">8</tspan><tspan x="232.7">9</tspan><tspan x="253.6">10</tspan><tspan x="274.5">11</tspan><tspan x="295.4">12</tspan><tspan x="316.3">13</tspan><tspan x="337.2">14</tspan><tspan x="358.1">15</tspan><tspan x="379">16</tspan><tspan x="399.9">17</tspan><tspan x="420.8">18</tspan><tspan x="441.7">19</tspan><tspan x="462.6">20</tspan><tspan x="483.5">21</tspan><tspan x="504.4">22</tspan><tspan x="525.3">23</tspan><tspan x="546.2">24</tspan><tspan x="567.1">25</tspan><tspan x="588">26</tspan><tspan x="608.9">27</tspan><tspan x="629.8">28</tspan><tspan x="650.7">29</tspan><tspan x="671.6">30</tspan><tspan x="692.5">31</tspan></text>
<text class="xl" y="368"><tspan x="65.5">1</tspan><tspan x="86.4">2</tspan><tspan x="107.3">3</tspan><tspan x="128.2">4</tspan><tspan x="149.1">5</tspan><tspan x="170">6</tspan><tspan x="190.9">7</tspan><tspan x="211.8">8</tspan><tspan x="232.7">9</tspan><tspan x="253.6">10</tspan><tspan x="274.5">11</tspan><tspan x="295.4">12</tspan><tspan x="316.3">13</tspan><tspan x="337.2">14</tspan><tspan x="358.1">15</tspan><tspan x="379">16</tspan><tspan x="399.9">17</tspan><tspan x="420.8">18</tspan><tspan x="441.7">19</tspan><tspan x="462.6">20</tspan><tspan x="483.5">21</tspan><tspan x="504.4">22</tspan><tspan x="525.3">23</tspan><tspan x="546.2">24</tspan><tspan x="567.1">25</tspan><tspan x="588">26</tspan><tspan x="608.9">27</tspan><tspan x="629.8">28</tspan><tspan x="650.7">29</tspan><tspan x="671.6">30</tspan><tspan x="692.5">31</tspan></text>
<text class="xl" y="508"><tspan x="65.5">1</tspan><tspan x="86.4">2</tspan><tspan x="107.3">3</tspan><tspan x="128.2">4</tspan><tspan x="149.1">5</tspan><tspan x="170">6</tspan><tspan x="190.9">7</tspan><tspan x="211.8">8</tspan><tspan x="232.7">9</tspan><tspan x="253.6">10</tspan><tspan x="274.5">11</tspan><tspan x="295.4">12</tspan><tspan x="316.3">13</tspan><tspan x="337.2">14</tspan><tspan x="358.1">15</tspan><tspan x="379">16</tspan><tspan x="399.9">17</tspan><tspan x="420.8">18</tspan><tspan x="441.7">19</tspan><tspan x="462.6">20</tspan><tspan x="483.5">21</tspan><tspan x="504.4">22</tspan><tspan x="525.3">23</tspan><tspan x="546.2">24</tspan><tspan x="567.1">25</tspan><tspan x="588">26</tspan><tspan x="608.9">27</tspan><tspan x="629.8">28</tspan><tspan x="650.7">29</tspan><tspan x="671.6">30</tspan><tspan x="692.5">31</tspan></text>
<text class="xl" y="638"><tspan x="65.5">1</tspan><tspan x="86.4">2</tspan><tspan x="107.3">3</tspan><tspan x="128.2">4</tspan><tspan x="149.1">5</tspan><tspan x="170">6</tspan><tspan x="190.9">7</tspan><tspan x="211.8">8</tspan><tspan x="232.7">9</tspan><tspan x="253.6">10</tspan><tspan x="274.5">11</tspan><tspan x="295.4">12</tspan><tspan x="316.3">13</tspan><tspan x="337.2">14</tspan><tspan x="358.1">15</tspan><tspan x="379">16</tspan><tspan x="399.9">17</tspan><tspan x="420.8">18</tspan><tspan x="441.7">19</tspan><tspan x="462.6">20</tspan><tspan x="483.5">21</tspan><tspan x="504.4">22</tspan><tspan x="525.3">23</tspan><tspan x="546.2">24</tspan><tspan x="567.1">25</tspan><tspan x="588">26</tspan><tspan x="608.9">27</tspan><tspan x="629.8">28</tspan><tspan x="650.7">29</tspan><tspan x="671.6">30</tspan><tspan x="692.5">31</tspan></text>
<text class="xl" y="738"><tspan x="65.5">1</tspan><tspan x="86.4">2</tspan><tspan x="107.3">3</tspan><tspan x="128.2">4</tspan><tspan x="149.1">5</tspan><tspan x="170">6</tspan><tspan x="190.9">7</tspan><tspan x="211.8">8</tspan><tspan x="232.7">9</tspan><tspan x="253.6">10</tspan><tspan x="274.5">11</tspan><tspan x="295.4">12</tspan><tspan x="316.3">13</tspan><tspan x="337.2">14</tspan><tspan x="358.1">15</tspan><tspan x="379">16</tspan><tspan x="399.9">17</tspan><tspan x="420.8">18</tspan><tspan x="441.7">19</tspan><tspan x="462.6">20</tspan><tspan x="483.5">21</tspan><tspan x="504.4">22</tspan><tspan x="525.3">23</tspan><tspan x="546.2">24</tspan><tspan x="567.1">25</tspan><tspan x="588">26</tspan><tspan x="608.9">27</tspan><tspan x="629.8">28</tspan><tspan x="650.7">29</tspan><tspan x="671.6">30</tspan><tspan x="692.5">31</tspan></text>
<text class="xl" y="838"><tspan x="65.5">1</tspan><tspan x="86.4">2</tspan><tspan x="107.3">3</tspan><tspan x="128.2">4</tspan><tspan x="149.1">5</tspan><tspan x="170">6</tspan><tspan x="190.9">7</tspan><tspan x="211.8">8</tspan><tspan x="232.7">9</tspan><tspan x="253.6">10</tspan><tspan x="274.5">11</tspan><tspan x="295.4">12</tspan><tspan x="316.3">13</tspan><tspan x="337.2">14</tspan><tspan x="358.1">15</tspan><tspan x="379">16</tspan><tspan x="399.9">17</tspan><tspan x="420.8">18</tspan><tspan x="441.7">19</tspan><tspan x="462.6">20</tspan><tspan x="483.5">21</tspan><tspan x="504.4">22</tspan><tspan x="525.3">23</tspan><tspan x="546.2">24</tspan><tspan x="567.1">25</tspan><tspan x="588">26</tspan><tspan x="608.9">27</tspan><tspan x="629.8">28</tspan><tspan x="650.7">29</tspan><tspan x="671.6">30</tspan><tspan x="692.5">31</tspan></text>
<text class="xl" y="978"><tspan x="65.5">1</tspan><tspan x="86.4">2</tspan><tspan x="107.3">3</tspan><tspan x="128.2">4</tspan><tspan x="149.1">5</tspan><tspan x="170">6</tspan><tspan x="190.9">7</tspan><tspan x="211.8">8</tspan><tspan x="232.7">9</tspan><tspan x="253.6">10</tspan><tspan x="274.5">11</tspan><tspan x="295.4">12</tspan><tspan x="316.3">13</tspan><tspan x="337.2">14</tspan><tspan x="358.1">15</tspan><tspan x="379">16</tspan><tspan x="399.9">17</tspan><tspan x="420.8">18</tspan><tspan x="441.7">19</tspan><tspan x="462.6">20</tspan><tspan x="483.5">21</tspan><tspan x="504.4">22</tspan><tspan x="525.3">23</tspan><tspan x="546.2">24</tspan><tspan x="567.1">25</tspan><tspan x="588">26</tspan><tspan x="608.9">27</tspan><tspan x="629.8">28</tspan><tspan x="650.7">29</tspan><tspan x="671.6">30</tspan><tspan x="692.5">31</tspan></text>
<text class="xl" y="1158"><tspan x="65.5">1</tspan><tspan x="86.4">2</tspan><tspan x="107.3">3</tspan><tspan x="128.2">4</tspan><tspan x="149.1">5</tspan><tspan x="170">6</tspan><tspan x="190.9">7</tspan><tspan x="211.8">8</tspan><tspan x="232.7">9</tspan><tspan x="253.6">10</tspan><tspan x="274.5">11</tspan><tspan x="295.4">12</tspan><tspan x="316.3">13</tspan><tspan x="337.2">14</tspan><tspan x="358.1">15</tspan><tspan x="379">16</tspan><tspan x="399.9">17</tspan><tspan x="420.8">18</tspan><tspan x="441.7">19</tspan><tspan x="462.6">20</tspan><tspan x="483.5">21</tspan><tspan x="504.4">22</tspan><tspan x="525.3">23</tspan><tspan x="546.2">24</tspan><tspan x="567.1">25</tspan><tspan x="588">26</tspan><tspan x="608.9">27</tspan><tspan x="629.8">28</tspan><tspan x="650.7">29</tspan><tspan x="671.6">30</tspan><tspan x="692.5">31</tspan></text>

<!-- axis titles -->
<g style="font-size:13px;fill:#333;text-anchor:middle">
<text transform="translate(27,135) rotate(-90)">°C</text>
<text transform="translate(20,295) rotate(-90)">mm</text>
<text transform="translate(27,435) rotate(-90)">cm</text>
<text transform="translate(27,570) rotate(-90)">Stunden</text>
<text transform="translate(27,685) rotate(-90)">Achtel</text>
<text transform="translate(27,785) rotate(-90)">Prozent</text>
<text transform="translate(20,905) rotate(-90)">hPa</text>
<text transform="translate(27,1065) rotate(-90)">km/h</text>
</g>
<g class="rt">
<text transform="translate(720,135) rotate(-90)">Temperatur</text>
<text transform="translate(720,295) rotate(-90)">Niederschlag</text>
<text transform="translate(720,435) rotate(-90)">Schneehöhe</text>
<text transform="translate(720,570) rotate(-90)">Sonnenscheindauer</text>
<text transform="translate(720,685) rotate(-90)">Bedeckungsgrad</text>
<text transform="translate(720,785) rotate(-90)">Luftfeuchte</text>
<text transform="translate(720,905) rotate(-90)">Luftdruck (NHN)</text>
<text transform="translate(720,1065) rotate(-90)">Windgeschwindigkeit</text>
</g>
<text x="364" y="1171" text-anchor="middle" style="font-size:11px;fill:#999">Erstellt von mtwetter.de | Datenbasis: Deutscher Wetterdienst, dwd.de | 24.01.2026, 17:17 UTC</text>
</svg>
</body></html>
